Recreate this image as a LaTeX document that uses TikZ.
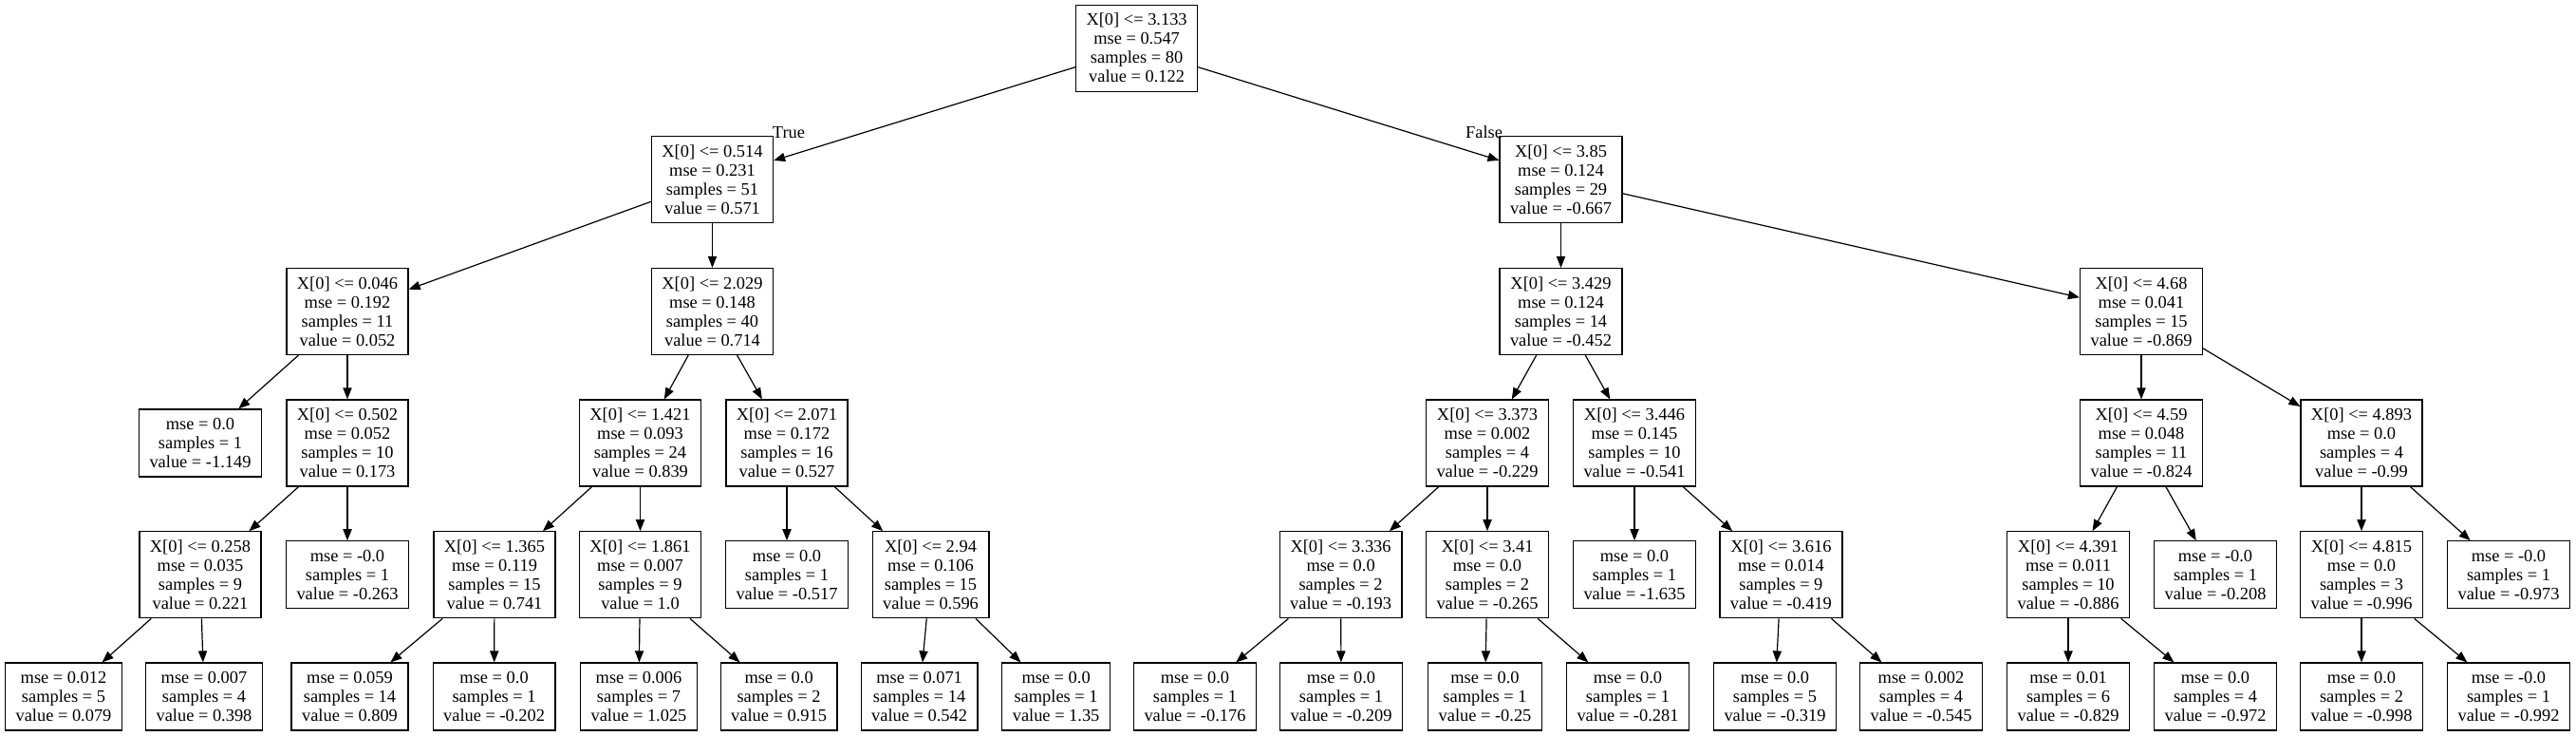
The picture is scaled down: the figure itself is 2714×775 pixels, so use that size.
\documentclass[tikz,border=0pt]{standalone}
\usepackage{fontspec}
\setmainfont{Liberation Serif}
\usetikzlibrary{arrows.meta}
\newcommand\treefont{\fontsize{9.2}{10}\selectfont}
\tikzset{
  box/.style={draw, line width=0.6pt, align=center, inner xsep=5.5pt, inner ysep=0pt, font=\treefont},
  split/.style={box, minimum height=45.5pt},
  leaf/.style={box, minimum height=35.5pt},
  edge/.style={line width=0.6pt, -{Triangle[length=6pt,width=4.6pt]}},
  lbl/.style={font=\treefont, inner sep=0pt}
}
\begin{document}
\begin{tikzpicture}[x=0.5pt, y=-0.5pt]
\useasboundingbox (0,0) rectangle (2714,775);
% rank 0
\node[split] (n0) at (1197.6,50.7) {X[0] <= 3.133\\mse = 0.547\\samples = 80\\value = 0.122};
% rank 1
\node[split] (n1) at (750.5,189) {X[0] <= 0.514\\mse = 0.231\\samples = 51\\value = 0.571};
\node[split] (n2) at (1644.5,189) {X[0] <= 3.85\\mse = 0.124\\samples = 29\\value = -0.667};
% rank 2
\node[split] (a) at (366,328) {X[0] <= 0.046\\mse = 0.192\\samples = 11\\value = 0.052};
\node[split] (b) at (750.5,328) {X[0] <= 2.029\\mse = 0.148\\samples = 40\\value = 0.714};
\node[split] (c) at (1644.5,328) {X[0] <= 3.429\\mse = 0.124\\samples = 14\\value = -0.452};
\node[split] (d) at (2256,328) {X[0] <= 4.68\\mse = 0.041\\samples = 15\\value = -0.869};
% rank 3
\node[leaf] (a1) at (211,466.5) {mse = 0.0\\samples = 1\\value = -1.149};
\node[split] (a2) at (366,466.5) {X[0] <= 0.502\\mse = 0.052\\samples = 10\\value = 0.173};
\node[split] (b1) at (674.5,466.5) {X[0] <= 1.421\\mse = 0.093\\samples = 24\\value = 0.839};
\node[split] (b2) at (829,466.5) {X[0] <= 2.071\\mse = 0.172\\samples = 16\\value = 0.527};
\node[split] (c1) at (1567,466.5) {X[0] <= 3.373\\mse = 0.002\\samples = 4\\value = -0.229};
\node[split] (c2) at (1722,466.5) {X[0] <= 3.446\\mse = 0.145\\samples = 10\\value = -0.541};
\node[split] (d1) at (2256,466.5) {X[0] <= 4.59\\mse = 0.048\\samples = 11\\value = -0.824};
\node[split] (d2) at (2488,466.5) {X[0] <= 4.893\\mse = 0.0\\samples = 4\\value = -0.99};
% rank 4
\node[split] (a21) at (211,605.3) {X[0] <= 0.258\\mse = 0.035\\samples = 9\\value = 0.221};
\node[leaf] (a22) at (366,605.3) {mse = -0.0\\samples = 1\\value = -0.263};
\node[split] (b11) at (521,605.3) {X[0] <= 1.365\\mse = 0.119\\samples = 15\\value = 0.741};
\node[split] (b12) at (674.5,605.3) {X[0] <= 1.861\\mse = 0.007\\samples = 9\\value = 1.0};
\node[leaf] (b21) at (829,605.3) {mse = 0.0\\samples = 1\\value = -0.517};
\node[split] (b22) at (980.5,605.3) {X[0] <= 2.94\\mse = 0.106\\samples = 15\\value = 0.596};
\node[split] (c11) at (1412.6,605.3) {X[0] <= 3.336\\mse = 0.0\\samples = 2\\value = -0.193};
\node[split] (c12) at (1567,605.3) {X[0] <= 3.41\\mse = 0.0\\samples = 2\\value = -0.265};
\node[leaf] (c21) at (1722,605.3) {mse = 0.0\\samples = 1\\value = -1.635};
\node[split] (c22) at (1876.4,605.3) {X[0] <= 3.616\\mse = 0.014\\samples = 9\\value = -0.419};
\node[split] (d11) at (2179,605.3) {X[0] <= 4.391\\mse = 0.011\\samples = 10\\value = -0.886};
\node[leaf] (d12) at (2334,605.3) {mse = -0.0\\samples = 1\\value = -0.208};
\node[split] (d21) at (2488,605.3) {X[0] <= 4.815\\mse = 0.0\\samples = 3\\value = -0.996};
\node[leaf] (d22) at (2643,605.3) {mse = -0.0\\samples = 1\\value = -0.973};
% rank 5
\node[leaf] (a211) at (67,733.5) {mse = 0.012\\samples = 5\\value = 0.079};
\node[leaf] (a212) at (215,733.5) {mse = 0.007\\samples = 4\\value = 0.398};
\node[leaf] (b111) at (368.5,733.5) {mse = 0.059\\samples = 14\\value = 0.809};
\node[leaf] (b112) at (520.6,733.5) {mse = 0.0\\samples = 1\\value = -0.202};
\node[leaf] (b121) at (673,733.5) {mse = 0.006\\samples = 7\\value = 1.025};
\node[leaf] (b122) at (820.6,733.5) {mse = 0.0\\samples = 2\\value = 0.915};
\node[leaf] (b221) at (968.6,733.5) {mse = 0.071\\samples = 14\\value = 0.542};
\node[leaf] (b222) at (1112.6,733.5) {mse = 0.0\\samples = 1\\value = 1.35};
\node[leaf] (c111) at (1259,733.5) {mse = 0.0\\samples = 1\\value = -0.176};
\node[leaf] (c112) at (1413,733.5) {mse = 0.0\\samples = 1\\value = -0.209};
\node[leaf] (c121) at (1564.5,733.5) {mse = 0.0\\samples = 1\\value = -0.25};
\node[leaf] (c122) at (1715,733.5) {mse = 0.0\\samples = 1\\value = -0.281};
\node[leaf] (c221) at (1870,733.5) {mse = 0.0\\samples = 5\\value = -0.319};
\node[leaf] (c222) at (2024,733.5) {mse = 0.002\\samples = 4\\value = -0.545};
\node[leaf] (d111) at (2179,733.5) {mse = 0.01\\samples = 6\\value = -0.829};
\node[leaf] (d112) at (2334,733.5) {mse = 0.0\\samples = 4\\value = -0.972};
\node[leaf] (d211) at (2488,733.5) {mse = 0.0\\samples = 2\\value = -0.998};
\node[leaf] (d212) at (2643,733.5) {mse = -0.0\\samples = 1\\value = -0.992};
% edge labels
\node[lbl] (tlab) at (831,139.5) {True};
\node[lbl] (flab) at (1563.5,139) {False};
% edges
\foreach \p/\c in {n0/n1, n0/n2, n1/a, n1/b, n2/c, n2/d,
  a/a1, a/a2, b/b1, b/b2, c/c1, c/c2, d/d1, d/d2,
  a2/a21, a2/a22, b1/b11, b1/b12, b2/b21, b2/b22, c1/c11, c1/c12, c2/c21, c2/c22,
  d1/d11, d1/d12, d2/d21, d2/d22,
  a21/a211, a21/a212, b11/b111, b11/b112, b12/b121, b12/b122, b22/b221, b22/b222,
  c11/c111, c11/c112, c12/c121, c12/c122, c22/c221, c22/c222,
  d11/d111, d11/d112, d21/d211, d21/d212}
  \draw[edge] (\p) -- (\c);
\end{tikzpicture}
\end{document}
